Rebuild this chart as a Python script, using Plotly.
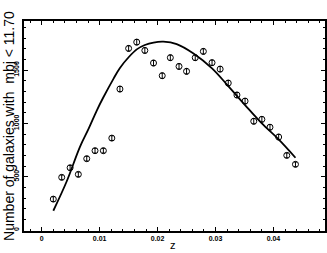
import plotly.graph_objects as go

z_bins = [0.0020, 0.00345, 0.0049, 0.00632, 0.00777, 0.0092, 0.01064, 0.0121, 0.0135, 0.0150,
          0.0164, 0.0178, 0.0193, 0.0208, 0.0222, 0.0237, 0.0250, 0.0265, 0.0279, 0.0294,
          0.0308, 0.0322, 0.0337, 0.0351, 0.0366, 0.0380, 0.0394, 0.0409, 0.0423, 0.0438]
counts = [290, 494, 584, 522, 669, 744, 744, 862, 1322, 1703,
          1762, 1684, 1566, 1447, 1616, 1534, 1488, 1616, 1675, 1569,
          1509, 1378, 1266, 1209, 1020, 1038, 964, 872, 700, 616]
count_err = [22, 22, 22, 22, 22, 22, 22, 22, 25, 25,
             25, 25, 25, 25, 25, 25, 25, 25, 25, 25,
             25, 25, 25, 25, 25, 25, 25, 25, 22, 22]

model_z = [0.0020, 0.0043, 0.0066, 0.0081, 0.0095, 0.0106, 0.0124, 0.0135, 0.0150, 0.0164,
           0.0178, 0.0193, 0.0210, 0.0233, 0.0262, 0.0294, 0.0322, 0.0351, 0.0380, 0.0409, 0.0438]
model_n = [181, 455, 780, 950, 1120, 1240, 1420, 1520, 1620, 1694,
           1735, 1758, 1766, 1744, 1656, 1516, 1350, 1172, 1000, 850, 678]

x_ticks = [0, 0.01, 0.02, 0.03, 0.04]
x_tick_labels = ["0", "0.01", "0.02", "0.03", "0.04"]
y_ticks = [0, 500, 1000, 1500]
y_tick_labels = ["0", "500", "1000", "1500"]

fig = go.Figure()
fig.add_trace(go.Scatter(
    x=model_z, y=model_n, mode="lines",
    line=dict(color="black", width=1.8, shape="spline", smoothing=1.0),
    showlegend=False, hoverinfo="skip"))
fig.add_trace(go.Scatter(
    x=z_bins, y=counts, mode="markers",
    marker=dict(symbol="circle-open", size=6, color="black", line=dict(width=1, color="black")),
    error_y=dict(type="data", array=count_err, visible=True, color="black", thickness=1, width=1.5),
    showlegend=False))

axis_common = dict(
    showline=True, linecolor="black", linewidth=1.5, mirror="allticks",
    ticks="inside", ticklen=4, tickwidth=1, tickcolor="black",
    showgrid=False, zeroline=False, automargin=False,
    tickfont=dict(family="Liberation Sans", size=7, color="#000000", weight="bold"),
)

fig.update_layout(
    width=327, height=253,
    margin=dict(l=24, r=2, t=21, b=22),
    paper_bgcolor="white", plot_bgcolor="white",
    font=dict(family="Liberation Sans", color="black"),
    xaxis=dict(range=[-0.00306, 0.0489], tickvals=x_ticks, ticktext=x_tick_labels,
               minor=dict(dtick=0.002, ticks="inside", ticklen=2, tickcolor="black", tick0=0),
               **axis_common),
    yaxis=dict(range=[-9, 1960], tickvals=y_ticks, ticktext=y_tick_labels, tickangle=-90,
               minor=dict(dtick=100, ticks="inside", ticklen=2, tickcolor="black", tick0=0),
               **axis_common),
    annotations=[
        dict(text="Number of galaxies with  mbj < 11.70", textangle=-90,
             xref="paper", yref="paper", x=-0.05, y=0.5,
             xanchor="center", yanchor="middle", showarrow=False,
             font=dict(size=14, family="Liberation Sans", color="black")),
        dict(text="z", xref="paper", yref="paper", x=0.495, y=-0.067,
             xanchor="center", yanchor="middle", showarrow=False,
             font=dict(size=11, family="Liberation Sans", color="black")),
    ],
)

fig.write_html("out.html", config={"displayModeBar": False},
               post_script="document.body.style.margin='0';document.body.style.overflow='hidden';")
